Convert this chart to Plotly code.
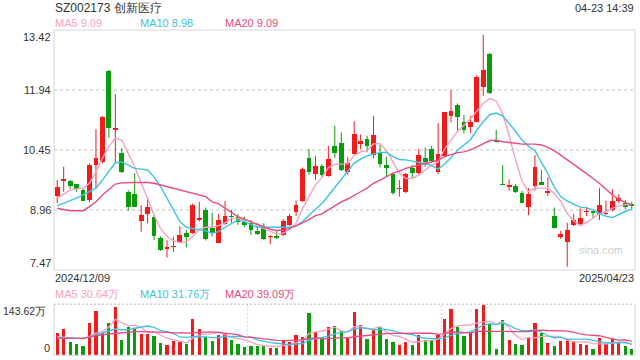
import plotly.graph_objects as go

# ---------------- data ----------------
title_text = "SZ002173 创新医疗"
time_text = "04-23 14:39"
first_date = "2024/12/09"
last_date = "2025/04/23"

open_ = [9.31, 9.68, 9.68, 9.60, 9.45, 9.21, 10.07, 10.15, 12.41, 10.95,
         10.36, 9.41, 9.35, 8.69, 8.86, 8.79, 8.27, 8.00, 8.03, 8.17,
         8.38, 8.38, 8.72, 8.96, 8.50, 8.15, 8.61, 8.82, 8.78, 8.67,
         8.63, 8.44, 8.53, 8.28, 8.32, 8.34, 8.59, 8.90, 9.18, 10.24,
         9.85, 10.05, 9.80, 10.54, 10.61, 9.89, 10.35, 10.59, 10.73, 10.32,
         10.36, 10.07, 9.85, 9.48, 9.40, 9.99, 9.88, 10.25, 10.47, 9.89,
         10.30, 11.29, 11.56, 11.15, 11.02, 11.15, 12.00, 12.83, 10.66, 9.59,
         9.54, 9.55, 9.38, 9.04, 9.55, 9.66, 9.39, 8.81, 8.30, 8.17,
         8.59, 8.61, 8.90, 8.93, 8.86, 8.85, 8.96, 9.18, 9.14, 9.10]
high = [9.70, 10.03, 9.70, 9.60, 9.48, 10.11, 10.96, 11.29, 12.43, 11.83,
        10.49, 9.45, 9.87, 9.08, 9.26, 8.81, 8.30, 8.21, 8.30, 8.56,
        8.46, 9.12, 9.16, 9.02, 8.89, 8.86, 9.18, 8.96, 8.86, 8.79,
        8.71, 8.63, 8.63, 8.34, 8.44, 8.73, 8.86, 9.19, 10.01, 10.47,
        10.30, 10.09, 10.54, 11.04, 10.88, 10.28, 11.16, 10.83, 10.80, 11.29,
        10.57, 10.28, 9.88, 9.70, 9.88, 10.07, 10.47, 10.50, 10.54, 11.11,
        11.39, 11.93, 11.60, 11.31, 11.29, 12.30, 13.30, 12.85, 10.94, 10.07,
        9.72, 9.60, 9.43, 9.50, 10.32, 9.95, 9.77, 9.02, 8.44, 8.64,
        8.86, 9.00, 9.04, 8.93, 9.50, 9.19, 9.47, 9.35, 9.21, 9.16]
low = [9.13, 9.41, 9.48, 9.41, 9.18, 9.15, 9.50, 10.12, 10.75, 10.11,
       9.87, 8.94, 9.03, 8.42, 8.63, 8.21, 7.94, 7.78, 7.92, 8.14,
       8.03, 8.36, 8.67, 8.20, 8.30, 8.14, 8.59, 8.64, 8.59, 8.53,
       8.34, 8.34, 8.21, 8.11, 8.24, 8.31, 8.56, 8.81, 9.16, 9.83,
       9.70, 9.78, 9.78, 10.25, 9.92, 9.83, 10.33, 10.47, 10.39, 10.24,
       10.01, 9.78, 9.34, 9.29, 9.37, 9.75, 9.83, 10.03, 10.16, 9.85,
       10.27, 11.13, 10.92, 10.86, 10.86, 11.13, 11.79, 11.83, 10.64, 9.58,
       9.44, 9.38, 9.12, 8.83, 9.44, 9.58, 9.30, 8.50, 8.24, 7.55,
       8.56, 8.59, 8.81, 8.75, 8.71, 8.83, 8.92, 9.12, 8.98, 8.98]
close = [9.52, 9.72, 9.56, 9.48, 9.19, 10.07, 10.24, 11.27, 11.00, 10.98,
         9.91, 9.04, 9.04, 8.83, 9.02, 8.31, 7.97, 8.02, 8.07, 8.34,
         8.30, 9.08, 8.74, 8.23, 8.38, 8.71, 8.81, 8.79, 8.67, 8.59,
         8.46, 8.36, 8.24, 8.30, 8.27, 8.69, 8.81, 9.08, 9.97, 9.91,
         10.05, 9.83, 10.22, 10.38, 9.95, 10.12, 10.83, 10.67, 10.55, 10.82,
         10.10, 9.99, 9.37, 9.50, 9.85, 9.87, 10.32, 10.15, 10.17, 10.35,
         11.38, 11.40, 11.26, 10.93, 11.13, 12.26, 12.43, 11.85, 10.64, 9.58,
         9.57, 9.41, 9.14, 9.35, 10.02, 9.58, 9.42, 8.50, 8.36, 8.46,
         8.71, 8.75, 8.93, 8.88, 9.08, 8.87, 9.19, 9.25, 9.03, 9.06]

ma5 = [9.25, 9.35, 9.45, 9.48, 9.50, 9.62, 9.91, 10.24, 10.53, 10.74,
       10.69, 10.36, 10.03, 9.62, 9.25, 8.83, 8.50, 8.30, 8.20, 8.15,
       8.17, 8.30, 8.48, 8.53, 8.53, 8.57, 8.64, 8.75, 8.75, 8.71,
       8.67, 8.57, 8.50, 8.44, 8.36, 8.38, 8.48, 8.63, 9.00, 9.29,
       9.58, 9.76, 10.01, 10.09, 10.10, 10.10, 10.31, 10.40, 10.43, 10.60,
       10.60, 10.43, 10.15, 9.87, 9.74, 9.74, 9.83, 9.95, 10.07, 10.15,
       10.47, 10.69, 10.91, 11.06, 11.22, 11.41, 11.60, 11.72, 11.66, 11.35,
       10.81, 10.20, 9.67, 9.41, 9.50, 9.50, 9.50, 9.37, 9.17, 8.87,
       8.69, 8.57, 8.65, 8.76, 8.87, 8.91, 9.00, 9.06, 9.09, 9.09]
ma10 = [9.06, 9.12, 9.19, 9.25, 9.33, 9.41, 9.50, 9.70, 9.91, 10.13,
        10.15, 10.07, 9.99, 9.97, 9.95, 9.78, 9.54, 9.25, 8.96, 8.67,
        8.53, 8.50, 8.46, 8.44, 8.38, 8.42, 8.53, 8.63, 8.71, 8.67,
        8.59, 8.53, 8.53, 8.53, 8.53, 8.53, 8.53, 8.56, 8.67, 8.83,
        8.97, 9.12, 9.31, 9.52, 9.70, 9.91, 10.12, 10.22, 10.30, 10.35,
        10.38, 10.39, 10.28, 10.21, 10.20, 10.17, 10.14, 10.11, 10.06, 9.97,
        10.10, 10.25, 10.44, 10.58, 10.70, 10.94, 11.15, 11.32, 11.36, 11.29,
        11.11, 10.91, 10.69, 10.54, 10.43, 10.16, 9.86, 9.52, 9.29, 9.18,
        9.10, 9.03, 9.01, 8.96, 8.87, 8.80, 8.77, 8.85, 8.92, 8.98]
ma20 = [9.00, 8.97, 8.94, 8.94, 8.94, 9.04, 9.16, 9.33, 9.47, 9.60,
        9.63, 9.64, 9.64, 9.64, 9.64, 9.62, 9.58, 9.54, 9.50, 9.45,
        9.41, 9.37, 9.33, 9.29, 9.16, 9.11, 9.00, 8.90, 8.79, 8.73,
        8.67, 8.60, 8.53, 8.48, 8.45, 8.46, 8.50, 8.56, 8.64, 8.72,
        8.82, 8.86, 8.96, 9.08, 9.16, 9.23, 9.33, 9.41, 9.50, 9.62,
        9.70, 9.78, 9.87, 9.92, 9.99, 10.03, 10.07, 10.11, 10.15, 10.19,
        10.28, 10.34, 10.38, 10.40, 10.45, 10.52, 10.60, 10.68, 10.69, 10.65,
        10.63, 10.61, 10.59, 10.59, 10.59, 10.57, 10.51, 10.43, 10.32, 10.21,
        10.10, 9.97, 9.86, 9.74, 9.62, 9.47, 9.33, 9.22, 9.14, 9.09]

volume = [63.6, 74.0, 38.3, 31.8, 26.1, 91.8, 124.7, 61.9, 91.8, 136.0,
          43.0, 79.6, 74.9, 60.8, 60.8, 54.3, 35.4, 29.0, 40.2, 38.3,
          31.8, 102.2, 74.0, 52.4, 40.2, 57.1, 61.9, 43.0, 32.6, 23.4,
          26.1, 26.1, 26.1, 21.4, 21.4, 41.0, 38.3, 57.1, 50.6, 119.9,
          64.7, 47.9, 80.5, 82.5, 68.4, 49.5, 122.8, 85.3, 45.9, 71.2,
          78.8, 45.9, 38.3, 29.0, 38.3, 29.0, 57.1, 43.0, 43.0, 57.1,
          102.2, 130.3, 80.5, 55.1, 61.9, 130.3, 141.6, 88.1, 17.7, 99.3,
          43.0, 31.8, 29.0, 50.6, 91.8, 63.6, 35.4, 26.1, 41.0, 45.9,
          40.2, 31.8, 29.0, 17.7, 47.9, 31.8, 45.9, 35.4, 26.1, 17.7]
vma5 = [52.4, 51.5, 50.0, 48.7, 46.8, 52.4, 62.5, 67.3, 79.3, 101.2,
        91.5, 82.5, 85.1, 78.9, 63.8, 66.1, 57.2, 48.1, 43.9, 39.4,
        34.9, 48.3, 57.3, 59.7, 60.1, 65.2, 57.1, 50.9, 47.0, 43.6,
        37.4, 30.2, 26.9, 24.6, 24.2, 27.2, 29.6, 35.8, 41.7, 61.4,
        66.1, 68.0, 72.7, 79.1, 68.8, 65.8, 80.7, 81.7, 74.4, 74.9,
        80.8, 65.4, 56.0, 52.6, 46.1, 36.1, 38.3, 39.3, 42.1, 45.8,
        60.5, 75.1, 82.6, 85.0, 86.0, 91.6, 93.9, 95.4, 87.9, 95.4,
        77.9, 56.0, 44.2, 50.7, 49.2, 53.4, 54.1, 53.5, 51.6, 42.4,
        37.7, 37.0, 37.6, 32.9, 33.3, 31.6, 34.5, 35.7, 37.4, 30.64]
vma10 = [49.6, 49.0, 48.5, 48.0, 47.9, 52.0, 57.2, 62.0, 68.0, 74.0,
         71.9, 72.5, 76.2, 79.1, 82.5, 78.8, 69.9, 66.6, 61.4, 51.6,
         50.5, 52.8, 52.7, 51.8, 49.8, 50.1, 52.7, 54.1, 53.4, 51.9,
         51.3, 43.7, 38.9, 35.8, 33.9, 32.3, 29.9, 31.4, 33.2, 42.8,
         46.7, 48.8, 54.3, 60.4, 65.1, 65.9, 74.4, 77.2, 76.7, 71.9,
         73.3, 73.1, 68.9, 63.5, 60.5, 58.5, 51.9, 47.7, 47.4, 46.0,
         48.3, 56.7, 61.0, 63.6, 65.9, 76.1, 84.5, 89.0, 86.5, 90.7,
         84.8, 74.9, 69.8, 69.3, 72.3, 65.7, 55.0, 48.8, 51.2, 45.8,
         45.5, 45.5, 45.5, 42.3, 37.9, 34.7, 35.7, 36.7, 35.2, 31.76]
vma20 = [47.9, 47.9, 47.9, 47.9, 47.9, 51.0, 55.0, 58.0, 60.0, 62.0,
         63.5, 65.0, 66.5, 66.5, 66.5, 66.5, 65.5, 64.5, 63.5, 62.8,
         61.2, 62.6, 64.4, 65.5, 66.2, 64.4, 61.3, 60.3, 57.4, 51.7,
         50.9, 48.2, 45.8, 43.8, 41.8, 41.2, 41.3, 42.7, 43.3, 47.3,
         49.0, 46.3, 46.6, 48.1, 49.5, 49.1, 52.2, 54.3, 54.9, 57.3,
         60.0, 61.0, 61.6, 62.0, 62.8, 62.2, 63.1, 62.4, 62.1, 58.9,
         60.8, 64.9, 64.9, 63.5, 63.2, 67.3, 68.2, 68.3, 66.9, 68.3,
         66.5, 65.8, 65.4, 66.4, 69.1, 70.9, 69.8, 68.9, 68.8, 68.3,
         65.2, 60.2, 57.7, 55.8, 55.1, 50.2, 45.4, 42.7, 43.2, 39.09]

price_ticks = [7.47, 8.96, 10.45, 11.94, 13.42]
vol_top = 143.62
vol_tick_labels = ["0", "143.62万"]

ma_labels = ["MA5 9.09", "MA10 8.98", "MA20 9.09"]
vma_labels = ["MA5 30.64万", "MA10 31.76万", "MA20 39.09万"]

# ---------------- styling ----------------
W, H = 640, 360
L, R = 54, 635
PT, PB = 30, 270
VT, VB = 304.3, 355.3
RED = "#f21b1b"
GREEN = "#0a9c0a"
C5, C10, C20 = "#f7a1c1", "#3ec3e0", "#e84b82"
FONT = "Arial, Liberation Sans, sans-serif"
GRID = "#e0e0e0"
BORDER = "#d6d6d6"

px = lambda x: x / W
py = lambda y: 1 - y / H

n = len(close)
idx = list(range(n))
up = [c >= o for o, c in zip(open_, close)]
colors = [RED if u else GREEN for u in up]

fig = go.Figure()

# wicks
for col, flag in ((RED, True), (GREEN, False)):
    xs, ys = [], []
    for i in idx:
        if up[i] == flag:
            xs += [i, i, None]
            ys += [low[i], high[i], None]
    fig.add_trace(go.Scatter(x=xs, y=ys, mode="lines", line=dict(color=col, width=1),
                             xaxis="x", yaxis="y", hoverinfo="skip"))

# bodies
base = [min(o, c) for o, c in zip(open_, close)]
hgt = [max(abs(c - o), 0.03) for o, c in zip(open_, close)]
fig.add_trace(go.Bar(x=idx, y=hgt, base=base, width=0.74, marker=dict(color=colors, line=dict(width=0)),
                     xaxis="x", yaxis="y", hoverinfo="skip"))

for arr, col in ((ma5, C5), (ma10, C10), (ma20, C20)):
    fig.add_trace(go.Scatter(x=idx, y=arr, mode="lines", line=dict(color=col, width=1.4),
                             xaxis="x", yaxis="y", hoverinfo="skip"))

# volume
fig.add_trace(go.Bar(x=idx, y=volume, width=0.5, marker=dict(color=colors, line=dict(width=0)),
                     xaxis="x2", yaxis="y2", hoverinfo="skip"))
for arr, col in ((vma5, C5), (vma10, C10), (vma20, C20)):
    fig.add_trace(go.Scatter(x=idx, y=arr, mode="lines", line=dict(color=col, width=1.3),
                             xaxis="x2", yaxis="y2", hoverinfo="skip"))

xdom = [px(L), px(R)]
fig.update_layout(
    width=W, height=H, margin=dict(l=0, r=0, t=0, b=0),
    paper_bgcolor="white", plot_bgcolor="white", showlegend=False,
    barmode="overlay", bargap=0,
    font=dict(family=FONT, size=11, color="#333333"),
    xaxis=dict(domain=xdom, range=[-0.5, n - 0.5], showticklabels=False, showgrid=False,
               zeroline=False, ticks="", fixedrange=True),
    yaxis=dict(domain=[py(PB), py(PT)], range=[price_ticks[0], price_ticks[-1]],
               tickvals=price_ticks[1:-1], showticklabels=False, showgrid=True,
               gridcolor=GRID, gridwidth=2, griddash="3px,3px", zeroline=False, ticks=""),
    xaxis2=dict(domain=xdom, range=[-0.5, n - 0.5], showticklabels=False, showgrid=False,
                zeroline=False, ticks="", anchor="y2"),
    yaxis2=dict(domain=[py(VB), py(VT)], range=[0, vol_top], showticklabels=False,
                showgrid=False, zeroline=False, ticks="", anchor="x2"),
)

shapes = [
    dict(type="rect", xref="paper", yref="paper", x0=px(L), x1=px(R), y0=py(PB), y1=py(PT),
         line=dict(color=BORDER, width=1)),
    dict(type="line", xref="paper", yref="paper", x0=px(L), x1=px(L), y0=py(VB), y1=py(VT),
         line=dict(color=BORDER, width=1)),
    dict(type="line", xref="paper", yref="paper", x0=px(R), x1=px(R), y0=py(VB), y1=py(VT),
         line=dict(color=BORDER, width=1)),
    dict(type="line", xref="paper", yref="paper", x0=px(L), x1=px(R), y0=py(VB), y1=py(VB),
         line=dict(color=BORDER, width=1)),
    dict(type="line", xref="paper", yref="paper", x0=px(L), x1=px(R), y0=py(VT), y1=py(VT),
         line=dict(color="#d0d0d0", width=1.5, dash="2px,2px")),
]
for k in (1, 2):
    xx = px(L + (R - L) * k / 3)
    shapes.append(dict(type="line", xref="paper", yref="paper", x0=xx, x1=xx, y0=py(VB), y1=py(VT),
                       line=dict(color="#d0d0d0", width=1, dash="2px,2px")))
fig.update_layout(shapes=shapes)

ann = []
def text(x, y, s, xanchor="left", yanchor="middle", color="#333333", size=11, yref="paper"):
    ann.append(dict(x=x, y=y, xref="paper", yref=yref, text=s, showarrow=False,
                    xanchor=xanchor, yanchor=yanchor, font=dict(color=color, size=size, family=FONT),
                    borderpad=0))

text(px(54), py(8), title_text, size=12)
text(px(635), py(8), time_text, xanchor="right")
for lbl, xx, col in zip(ma_labels, (54, 139, 224), (C5, C10, C20)):
    text(px(xx), py(23), lbl, color=col)
for lbl, xx, col in zip(vma_labels, (54, 139, 224), (C5, C10, C20)):
    text(px(xx), py(294), lbl, color=col)
text(px(54), py(278), first_date)
text(px(635), py(278), last_date, xanchor="right")

for i, v in enumerate(price_ticks):
    ya = "bottom" if i == 0 else ("top" if i == len(price_ticks) - 1 else "middle")
    ann.append(dict(x=px(52), y=v, xref="paper", yref="y", text=f"{v:.2f}", showarrow=False,
                    xanchor="right", yanchor=ya, font=dict(size=11, color="#333333", family=FONT),
                    borderpad=0))
ann.append(dict(x=px(47), y=vol_top, xref="paper", yref="y2", text=vol_tick_labels[1], showarrow=False,
                xanchor="right", yanchor="top", font=dict(size=10.5, color="#333333", family=FONT), borderpad=0))
ann.append(dict(x=px(51), y=0, xref="paper", yref="y2", text=vol_tick_labels[0], showarrow=False,
                xanchor="right", yanchor="bottom", font=dict(size=11, color="#333333", family=FONT), borderpad=0))
text(px(624), py(250), "sina.com", xanchor="right", color="#cfcfcf", size=11)
fig.update_layout(annotations=ann)

fig.write_html("out.html", config={"displayModeBar": False, "staticPlot": True},
               post_script="document.body.style.margin='0';document.body.style.padding='0';document.body.style.overflow='hidden';")
